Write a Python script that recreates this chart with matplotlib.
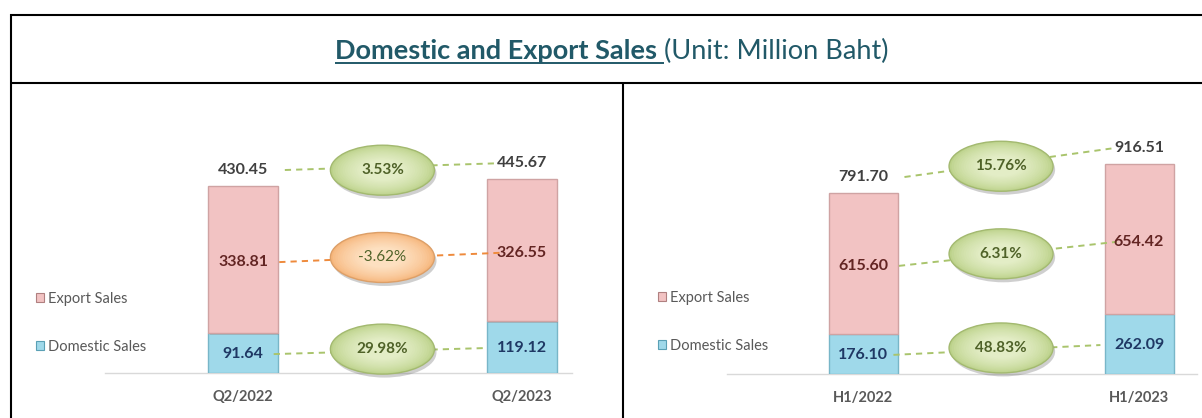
import matplotlib
matplotlib.use('Agg')
import matplotlib.pyplot as plt
import matplotlib.transforms as mtransforms
import matplotlib.patheffects as pe
import matplotlib.colors as mcolors
import numpy as np
from matplotlib.patches import Ellipse, Rectangle
from matplotlib.lines import Line2D

plt.rcParams['font.family'] = ['Lato', 'DejaVu Sans']

# ---------------- data ----------------
q_categories = ['Q2/2022', 'Q2/2023']
q_domestic = [91.64, 119.12]
q_export = [338.81, 326.55]
q_total = [430.45, 445.67]
q_growth = [3.53, -3.62, 29.98]          # total, export, domestic

h_categories = ['H1/2022', 'H1/2023']
h_domestic = [176.10, 262.09]
h_export = [615.60, 654.42]
h_total = [791.70, 916.51]
h_growth = [15.76, 6.31, 48.83]          # total, export, domestic

series_labels = ['Export Sales', 'Domestic Sales']
title_bold = 'Domestic and Export Sales '
title_rest = '(Unit: Million Baht)'

# ---------------- style ----------------
W, H, DPI = 1202, 418, 100
EXPORT_C = '#f2c3c3'
EXPORT_E = '#cfa3a3'
DOMESTIC_C = '#9fd9ea'
DOMESTIC_E = '#78b6c8'
TITLE_C = '#215968'
GREEN_OUT, GREEN_IN = '#bcd28a', '#e3edc6'
GREEN_LINE = '#a9c46c'
ORANGE_OUT, ORANGE_IN = '#f6b67c', '#fde0c0'
ORANGE_LINE = '#ee8a3c'

fig = plt.figure(figsize=(W / DPI, H / DPI), dpi=DPI)
fig.patch.set_facecolor('white')


def px_off(ax, dy_px):
    return ax.transData + mtransforms.ScaledTranslation(0, dy_px / DPI, fig.dpi_scale_trans)


def draw_panel(ax, cats, dom, exp, tot, growth, ylim, legend_anchor):
    x = list(range(len(cats)))
    bw = 0.25
    b1 = ax.bar(x, dom, width=bw, color=DOMESTIC_C, edgecolor=DOMESTIC_E, linewidth=1.0, zorder=3)
    b2 = ax.bar(x, exp, width=bw, bottom=dom, color=EXPORT_C, edgecolor=EXPORT_E, linewidth=1.0, zorder=3)
    for bars in (b1, b2):
        for r in bars:
            r.set_path_effects([pe.withSimplePatchShadow(offset=(1, -1), shadow_rgbFace='#888888', alpha=0.35)])

    rows = [
        (tot, tot, 16, '#404040', 0.15, 0.10, -3.5),
        ([d + e / 2 for d, e in zip(dom, exp)], exp, -2.5, '#632523', 0.13, 0.08, 0.0),
        ([d / 2 for d in dom], dom, -1.0, '#1f3864', 0.11, 0.14, 2.0),
    ]
    for (ys, vals, dy, col, a, b, edy), g in zip(rows, growth):
        tr = px_off(ax, dy)
        for xi, yi, v in zip(x, ys, vals):
            ax.text(xi, yi, f'{v:.2f}', transform=tr, ha='center', va='center',
                    fontsize=11.5, fontweight='bold', color=col, zorder=6)
        lc = ORANGE_LINE if g < 0 else GREEN_LINE
        ax.plot([x[0] + a, x[1] - b], [ys[0], ys[1]], transform=tr, color=lc,
                lw=1.4, ls=(0, (3.2, 2.6)), zorder=4, clip_on=False)
        xm = (x[0] + x[1]) / 2
        ym = (ys[0] + ys[1]) / 2
        c_out, c_in = (ORANGE_OUT, ORANGE_IN) if g < 0 else (GREEN_OUT, GREEN_IN)
        edge = '#dc9f68' if g < 0 else '#a3b970'
        co = np.array(mcolors.to_rgb(c_out))
        ci = np.array(mcolors.to_rgb(c_in))
        n = 14
        etr = (fig.dpi_scale_trans
               + mtransforms.ScaledTranslation(xm, ym, ax.transData)
               + mtransforms.ScaledTranslation(0, (dy + edy) / DPI, fig.dpi_scale_trans))
        for k in range(n):
            t = k / (n - 1)
            s = 1.0 - 0.6 * t
            fc = co + (ci - co) * (t ** 0.7)
            el = Ellipse((0, 0), width=1.04 * s, height=0.50 * s, transform=etr,
                         facecolor=fc, edgecolor=edge if k == 0 else 'none',
                         lw=1.0, zorder=5, clip_on=False)
            if k == 0:
                el.set_path_effects([pe.SimplePatchShadow(offset=(1.5, -2.5), shadow_rgbFace='#777777', alpha=0.35),
                                     pe.Normal()])
            ax.add_artist(el)
        ax.text(xm, ym, f'{g:.2f}%', transform=px_off(ax, dy + edy), ha='center', va='center',
                fontsize=11, fontweight='bold' if g >= 0 else 'normal', color='#4f6228', zorder=7)

    ax.set_ylim(*ylim)
    ax.set_yticks([])
    for s in ('top', 'right', 'left'):
        ax.spines[s].set_visible(False)
    ax.spines['bottom'].set_color('#d9d9d9')
    ax.spines['bottom'].set_linewidth(1.0)
    ax.set_xticks(x, cats)
    ax.tick_params(axis='x', length=0, pad=12, labelsize=10.5, labelcolor='#595959')
    for t in ax.get_xticklabels():
        t.set_fontweight('bold')
    ax.set_facecolor('none')

    handles = [Rectangle((0, 0), 1, 1, facecolor=EXPORT_C, edgecolor='#b08080', lw=0.8),
               Rectangle((0, 0), 1, 1, facecolor=DOMESTIC_C, edgecolor='#5aa0b5', lw=0.8)]
    ax.legend(handles, series_labels, loc='upper left', bbox_to_anchor=legend_anchor,
              bbox_transform=fig.transFigure, frameon=False, fontsize=10.5, labelcolor='#595959',
              handlelength=0.55, handleheight=0.55, handletextpad=0.3, labelspacing=2.3,
              borderpad=0, borderaxespad=0)


# left panel
axL = fig.add_axes([105 / W, (H - 373) / H, 467 / W, 239 / H])
draw_panel(axL, q_categories, q_domestic, q_export, q_total, q_growth, (0, 239 / 0.4344),
           (36 / W, 1 - 292 / H))
axL.set_xlim(-0.495, 1.18)

# right panel
axR = fig.add_axes([727 / W, (H - 374) / H, 470 / W, 240 / H])
draw_panel(axR, h_categories, h_domestic, h_export, h_total, h_growth, (0, 240 / 0.2286),
           (658 / W, 1 - 291 / H))
axR.set_xlim(-0.493, 1.21)


def fline(x0, y0, x1, y1, color='black', lw=1.5):
    fig.add_artist(Line2D([x0 / W, x1 / W], [1 - y0 / H, 1 - y1 / H], transform=fig.transFigure,
                          color=color, lw=lw, solid_capstyle='butt'))


fline(10, 15, W, 15)
fline(10, 83, W, 83)
fline(11, 14, 11, H)
fline(623, 83, 623, H)

# title
tb = fig.text(0, 1 - 59 / H, title_bold, fontsize=19.5, fontweight='bold', color=TITLE_C,
              ha='left', va='baseline')
tr_ = fig.text(0, 1 - 59 / H, title_rest, fontsize=19.5, color=TITLE_C, ha='left', va='baseline')
fig.canvas.draw()
r = fig.canvas.get_renderer()
wb = tb.get_window_extent(r).width
wr = tr_.get_window_extent(r).width
x0 = 612 - (wb + wr) / 2
tb.set_x(x0 / W)
tr_.set_x((x0 + wb) / W)
fline(x0, 62.5, x0 + wb, 62.5, color=TITLE_C, lw=1.4)

fig.savefig('out.png', dpi=DPI)
